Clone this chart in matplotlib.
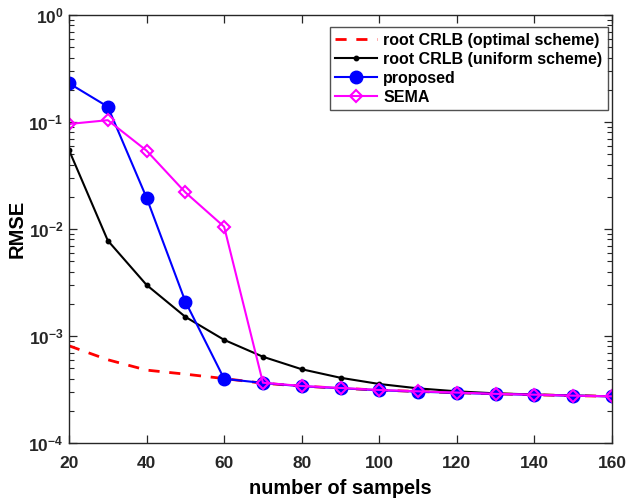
import matplotlib
matplotlib.use("Agg")
import matplotlib.pyplot as plt
from matplotlib.ticker import LogLocator, NullFormatter, FixedLocator

samples = [20, 30, 40, 50, 60, 70, 80, 90, 100, 110, 120, 130, 140, 150, 160]
crlb_optimal = [8.1e-4, 6.0e-4, 4.8e-4, 4.4e-4, 4.0e-4, 3.62e-4, 3.40e-4, 3.25e-4, 3.12e-4,
                3.03e-4, 2.95e-4, 2.88e-4, 2.82e-4, 2.77e-4, 2.73e-4]
crlb_uniform = [0.0547, 7.8e-3, 3.0e-3, 1.51e-3, 9.2e-4, 6.4e-4, 4.89e-4, 4.07e-4, 3.56e-4,
                3.24e-4, 3.04e-4, 2.91e-4, 2.84e-4, 2.78e-4, 2.73e-4]
proposed = [0.230, 0.139, 0.0196, 2.1e-3, 3.98e-4, 3.64e-4, 3.39e-4, 3.25e-4, 3.11e-4,
            3.02e-4, 2.94e-4, 2.87e-4, 2.82e-4, 2.77e-4, 2.73e-4]
sema = [0.0958, 0.104, 0.054, 0.022, 0.0105, 3.66e-4, 3.41e-4, 3.27e-4, 3.13e-4,
        3.04e-4, 2.96e-4, 2.88e-4, 2.83e-4, 2.77e-4, 2.73e-4]
labels = ["root CRLB (optimal scheme)", "root CRLB (uniform scheme)", "proposed", "SEMA"]

plt.rcParams['font.family'] = ['Liberation Sans', 'DejaVu Sans']
plt.rcParams['font.weight'] = 'bold'

fig = plt.figure(figsize=(6.26, 5.0), dpi=100)
ax = fig.add_axes([69/626, 1 - 443/500, (612-69)/626, (443-15)/500])

ax.plot(samples, crlb_optimal, color='red', linestyle=(0, (4, 3.5)), linewidth=2, label=labels[0])
ax.plot(samples, crlb_uniform, color='black', linewidth=1.5, marker='o', markersize=3.2, label=labels[1])
ax.plot(samples, proposed, color='blue', linewidth=1.5, marker='o', markersize=9, label=labels[2])
ax.plot(samples, sema, color='magenta', linewidth=1.5, marker='D', markersize=6.5,
        markerfacecolor='none', markeredgewidth=1.5, label=labels[3])

ax.set_yscale('log')
ax.set_xlim(20, 160)
ax.set_ylim(1e-4, 1)
ax.xaxis.set_major_locator(FixedLocator(list(range(20, 161, 20))))
ax.yaxis.set_major_locator(LogLocator(base=10, numticks=10))
ax.yaxis.set_minor_locator(LogLocator(base=10, subs=range(2, 10), numticks=20))
ax.yaxis.set_minor_formatter(NullFormatter())

axcol = '#262626'
for s in ax.spines.values():
    s.set_color(axcol)
    s.set_linewidth(1.0)
ax.tick_params(which='both', direction='in', top=True, right=True, colors=axcol,
               labelcolor='#262626', labelsize=12.5)
ax.tick_params(which='major', length=6, width=0.9)
ax.tick_params(which='minor', length=3.5, width=0.8)
ax.tick_params(axis='x', which='major', pad=9)
ax.tick_params(axis='y', which='major', pad=4)
for lab in ax.get_xticklabels() + ax.get_yticklabels():
    lab.set_fontweight('bold')

ax.set_xlabel('number of sampels', fontsize=14.3, fontweight='bold')
ax.xaxis.set_label_coords(0.5, -(488 - 443) / 428, transform=ax.transAxes)
ax.xaxis.label.set_verticalalignment('center')
ax.set_ylabel('RMSE', fontsize=14.5, fontweight='bold')
ax.yaxis.set_label_coords(-(69 - 17) / 543, (443 - 229) / 428, transform=ax.transAxes)
ax.yaxis.label.set_verticalalignment('center')

leg = ax.legend(loc='upper right', bbox_to_anchor=((608 - 69) / 543, 1 - (27 - 15) / 428),
                fontsize=11.5, frameon=True, fancybox=False,
                edgecolor='#262626', handlelength=2.6, handletextpad=0.4,
                borderaxespad=0.0, labelspacing=0.25, borderpad=0.35)
leg.get_frame().set_linewidth(1.0)
for t in leg.get_texts():
    t.set_fontweight('bold')

fig.savefig('out.png', dpi=100)
